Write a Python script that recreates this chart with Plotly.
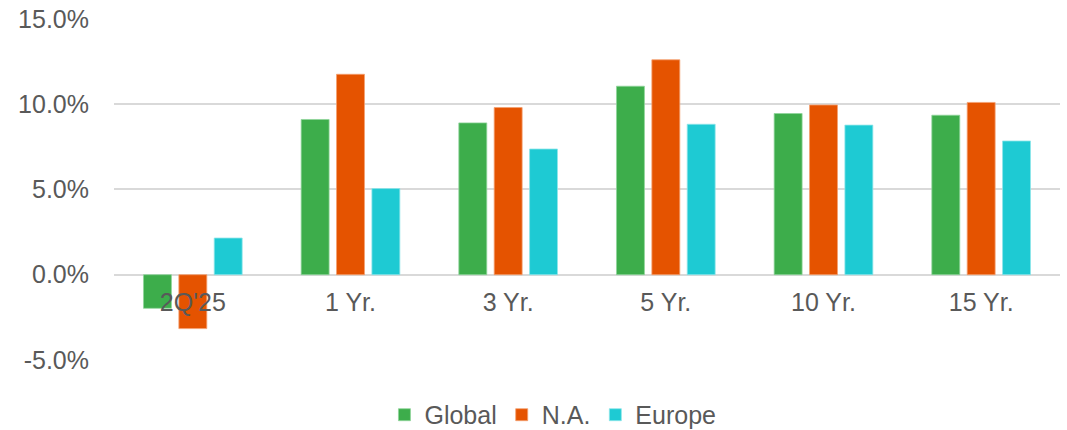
import plotly.graph_objects as go

categories = ["2Q'25", "1 Yr.", "3 Yr.", "5 Yr.", "10 Yr.", "15 Yr."]
global_vals = [-1.97, 9.1, 8.9, 11.05, 9.45, 9.35]
na_vals = [-3.16, 11.75, 9.8, 12.6, 9.95, 10.1]
europe_vals = [2.15, 5.05, 7.37, 8.82, 8.77, 7.84]
series_names = ["Global", "N.A.", "Europe"]
colors = ["#3DAD4B", "#E55300", "#1ECAD3"]
edge_colors = ["#8FD49A", "#F4A070", "#8EE6EA"]
y_ticks = [-5, 0, 5, 10, 15]
y_tick_labels = ["-5.0%", "0.0%", "5.0%", "10.0%", "15.0%"]

fig = go.Figure()
for name, vals, c, ec in zip(series_names, [global_vals, na_vals, europe_vals], colors, edge_colors):
    fig.add_trace(go.Bar(x=categories, y=vals, name=name,
                         marker=dict(color=c, line=dict(color=ec, width=0.8))))

font_family = "Liberation Sans, Arial, sans-serif"
fig.update_layout(
    width=1067, height=430,
    margin=dict(l=114, r=7, t=18, b=70, autoexpand=False),
    paper_bgcolor="white", plot_bgcolor="white",
    barmode="group", bargap=0.327, bargroupgap=0.21,
    font=dict(family=font_family, size=25, color="#595959"),
    showlegend=True,
    legend=dict(orientation="h", x=0.464, xanchor="center", yref="container", y=0.035, yanchor="middle",
                font=dict(size=25, color="#595959"), itemwidth=30, traceorder="normal"),
    xaxis=dict(anchor="free", position=0.25, showline=False, showgrid=False, ticks="",
               tickfont=dict(size=25, color="#595959"), ticklabelstandoff=10, zeroline=False,
               automargin=False),
    yaxis=dict(range=[-5, 15.05], tickvals=y_ticks, ticktext=y_tick_labels,
               showgrid=True, gridcolor="#D9D9D9", gridwidth=2,
               zeroline=True, zerolinecolor="#D9D9D9", zerolinewidth=2,
               showline=False, ticks="", ticklabelstandoff=24, automargin=False,
               tickfont=dict(size=25, color="#595959")),
)

fig.write_html("out.html", config={"displayModeBar": False},
               post_script="document.body.style.margin='0px';document.body.style.overflow='hidden';")
